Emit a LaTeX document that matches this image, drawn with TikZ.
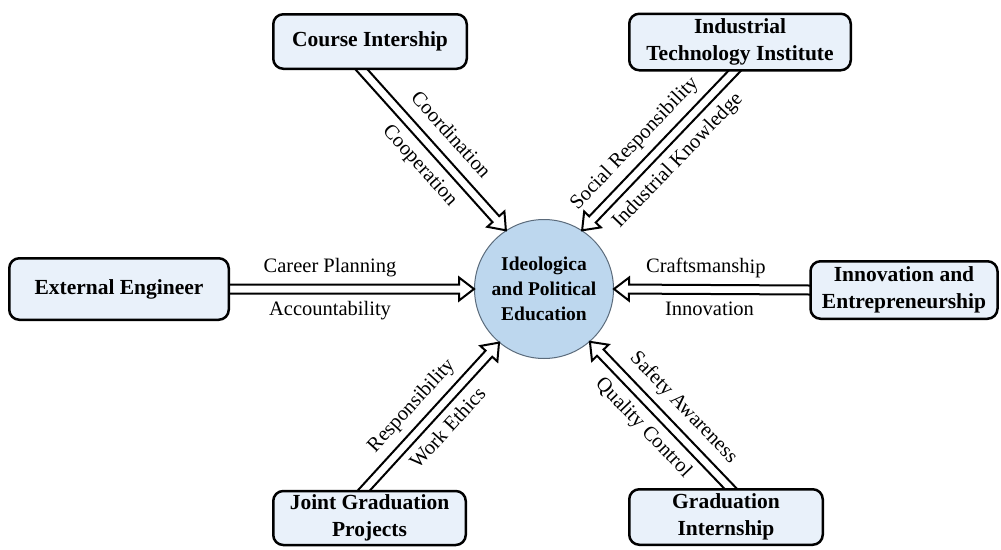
\documentclass[tikz,border=0pt]{standalone}
\usepackage{fontspec}
\setmainfont{Liberation Serif}
\usetikzlibrary{calc}
\pgfdeclarelayer{bg}
\pgfsetlayers{bg,main}
\definecolor{boxfill}{HTML}{E9F1FA}
\definecolor{circfill}{HTML}{BDD7EE}
\definecolor{circline}{HTML}{5B6B7B}
\tikzset{
  box/.style={draw=black, line width=2.5pt, rounded corners=10pt, fill=boxfill, align=center,
    font=\fontsize{21.5}{27}\selectfont\bfseries, inner sep=0pt},
  lab/.style={font=\fontsize{20.5}{24}\selectfont, sloped, inner sep=1pt, text height=14pt, text depth=4.5pt},
  shaft/.style={draw=black, fill=white, line width=2pt, line join=miter, miter limit=10},
}
\newcommand{\hollowarrow}[2]{%
  \coordinate (hs) at ($(#1)!-12pt!(#2)$);
  \coordinate (hh) at ($(#2)!15pt!(#1)$);
  \path[shaft] ($(hs)!4.5pt!90:(#2)$) -- ($(hh)!4.5pt!-90:(#1)$) -- ($(hh)!11.5pt!-90:(#1)$)
    -- (#2) -- ($(hh)!11.5pt!90:(#1)$) -- ($(hh)!4.5pt!90:(#1)$) -- ($(hs)!4.5pt!-90:(#2)$);
}
\begin{document}
\begin{tikzpicture}[x=1pt,y=-1pt]
\useasboundingbox (0,0) rectangle (1001,549);
% boxes
\node[box, minimum width=193.5pt, minimum height=54.5pt] (ci) at (370,41.5) {Course Intership};
\node[box, minimum width=221.5pt, minimum height=56.5pt] (it) at (740,42) {Industrial\\Technology Institute};
\node[box, minimum width=219.5pt, minimum height=61.5pt] (ee) at (119,289) {External Engineer};
\node[box, minimum width=187pt, minimum height=57.5pt] (ie) at (904,290) {Innovation and\\Entrepreneurship};
\node[box, minimum width=192.5pt, minimum height=54pt] (jg) at (369.5,518) {Joint Graduation\\Projects};
\node[box, minimum width=193.5pt, minimum height=55.5pt] (gi) at (726,517) {Graduation\\Internship};
\begin{pgfonlayer}{bg}
\node[circle, draw=circline, line width=1pt, fill=circfill, minimum size=139pt, inner sep=0pt, align=center,
  font=\fontsize{19.5}{25}\selectfont\bfseries] (c) at (544,289) {Ideologica\\and Political\\Education};
\end{pgfonlayer}
% connector end points
\coordinate (s1) at ($(ci.south)+(-8,0)$);   \coordinate (t1) at (c.123);
\coordinate (s2) at ($(it.south)+(-6,0)$);   \coordinate (t2) at (c.57);
\coordinate (s3) at (ee.east);               \coordinate (t3) at (c.west);
\coordinate (s4) at (ie.west);               \coordinate (t4) at (c.east);
\coordinate (s5) at ($(jg.north)+(-5,0)$);   \coordinate (t5) at (c.230);
\coordinate (s6) at ($(gi.north)+(4,0)$);    \coordinate (t6) at (c.311);
\begin{pgfonlayer}{bg}
\hollowarrow{s1}{t1}
\hollowarrow{s2}{t2}
\hollowarrow{s3}{t3}
\hollowarrow{s4}{t4}
\hollowarrow{s5}{t5}
\hollowarrow{s6}{t6}
\end{pgfonlayer}
% labels
\path (s1) -- (t1) node[lab, pos=.5, above=11pt] {Coordination} node[lab, pos=.51, below=11pt] {Cooperation};
\path (s2) -- (t2) node[lab, pos=.55, above=11pt] {Social Responsibility} node[lab, pos=.47, below=11pt] {Industrial Knowledge};
\path (s3) -- (t3) node[lab, pos=.41, above=11pt] {Career Planning} node[lab, pos=.41, below=11pt] {Accountability};
\path (s4) -- (t4) node[lab, pos=.53, above=11pt] {Craftsmanship} node[lab, pos=.51, below=11pt] {Innovation};
\path (s5) -- (t5) node[lab, pos=.47, above=11pt] {Responsibility} node[lab, pos=.51, below=11pt] {Work Ethics};
\path (s6) -- (t6) node[lab, pos=.445, above=11pt] {Safety Awareness} node[lab, pos=.51, below=11pt] {Quality Control};
\end{tikzpicture}
\end{document}
